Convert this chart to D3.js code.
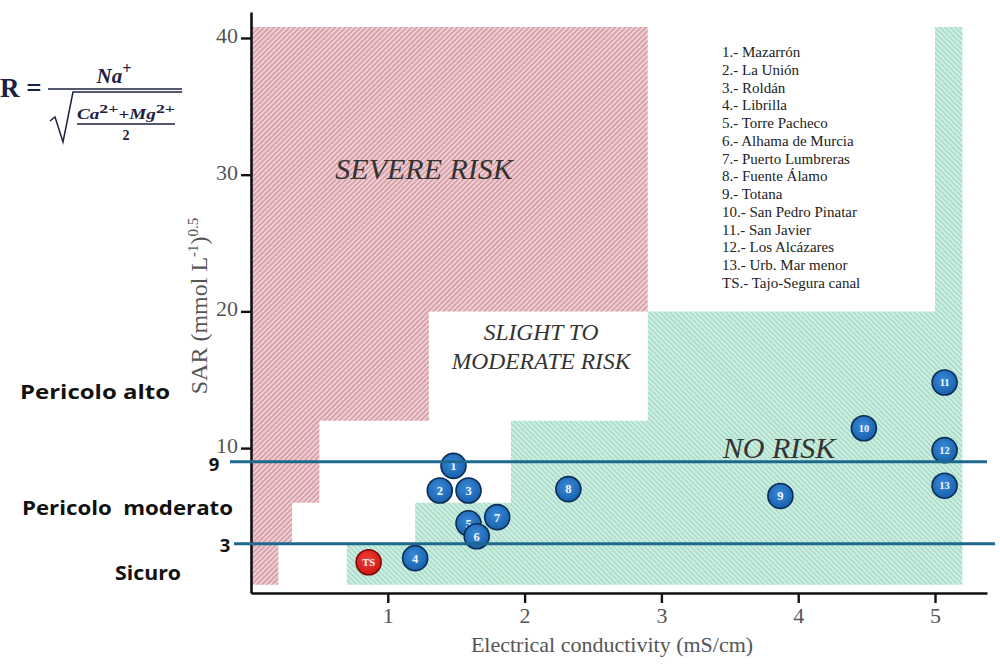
<!DOCTYPE html>
<html>
<head>
<meta charset="utf-8">
<script src="https://cdn.jsdelivr.net/npm/d3@7/dist/d3.min.js"></script>
<style>
  html, body { margin: 0; padding: 0; background: #fff; }
  svg { display: block; }
</style>
</head>
<body>
<svg id="chart" width="1000" height="664"></svg>
<script>
// Water sampling sites: electrical conductivity (mS/cm) and SAR
const siteIds   = ["1", "2", "3", "4", "5", "6", "7", "8", "9", "10", "11", "12", "13", "TS"];
const ecValues  = [1.48, 1.38, 1.59, 1.20, 1.59, 1.65, 1.80, 2.32, 3.87, 4.48, 5.07, 5.07, 5.07, 0.86];
const sarValues = [8.7, 6.9, 6.9, 1.95, 4.5, 3.55, 4.95, 7.0, 6.5, 11.45, 14.8, 9.85, 7.25, 1.65];

const legendNames = [
  "1.- Mazarrón", "2.- La Unión", "3.- Roldán", "4.- Librilla", "5.- Torre Pacheco",
  "6.- Alhama de Murcia", "7.- Puerto Lumbreras", "8.- Fuente Álamo", "9.- Totana",
  "10.- San Pedro Pinatar", "11.- San Javier", "12.- Los Alcázares", "13.- Urb. Mar menor",
  "TS.- Tajo-Segura canal"
];

// Infiltration risk thresholds (SAR bands and EC limits per band)
const sarBreaks   = [0, 3, 6, 12, 20, 40.8];
const severeBelow = [0.2, 0.3, 0.5, 1.3, 2.9];
const noRiskAbove = [0.7, 1.2, 1.9, 2.9, 5.0];
const ecLimit = 5.2;

const xTicks = [1, 2, 3, 4, 5];
const yTicks = [10, 20, 30, 40];

// Reference lines drawn across the chart
const refLevels = [9, 3];

const svg = d3.select("#chart");
const x = d3.scaleLinear().domain([0, 5.38]).range([251, 987]);
const y = d3.scaleLinear().domain([-0.6, 41.9]).range([593, 12]);

const defs = svg.append("defs");
function hatch(id, bg, fg, angle) {
  const p = defs.append("pattern")
    .attr("id", id).attr("patternUnits", "userSpaceOnUse")
    .attr("width", 3.6).attr("height", 3.6)
    .attr("patternTransform", `rotate(${angle})`);
  p.append("rect").attr("width", 3.6).attr("height", 3.6).attr("fill", bg);
  p.append("line").attr("x1", 0.9).attr("y1", 0).attr("x2", 0.9).attr("y2", 3.6)
    .attr("stroke", fg).attr("stroke-width", 1.4);
}
hatch("hatchSevere", "#f0d0d4", "#cf939c", 45);
hatch("hatchNone", "#cfefe3", "#a2d8c3", -45);

function bubbleGrad(id, c0, c1) {
  const g = defs.append("radialGradient").attr("id", id)
    .attr("cx", "45%").attr("cy", "40%").attr("r", "60%");
  g.append("stop").attr("offset", "0%").attr("stop-color", c0);
  g.append("stop").attr("offset", "100%").attr("stop-color", c1);
}
bubbleGrad("gBlue", "#3b8ad8", "#1661ad");
bubbleGrad("gRed", "#f0423a", "#d21414");

// Severe-risk region: steps to the left of the severe limits
const bandTop = sarBreaks[sarBreaks.length - 1];
const severePts = [[0, bandTop]];
for (let i = severeBelow.length - 1; i >= 0; i--) {
  severePts.push([severeBelow[i], sarBreaks[i + 1]]);
  severePts.push([severeBelow[i], sarBreaks[i]]);
}
severePts.push([0, 0]);

// No-risk region: steps to the right of the no-risk limits
const nonePts = [[ecLimit, bandTop], [ecLimit, 0]];
for (let i = 0; i < noRiskAbove.length; i++) {
  nonePts.push([noRiskAbove[i], sarBreaks[i]]);
  nonePts.push([noRiskAbove[i], sarBreaks[i + 1]]);
}

const area = d3.line().x(d => x(d[0])).y(d => y(d[1]));
svg.append("path").attr("d", area(severePts) + "Z").attr("fill", "url(#hatchSevere)");
svg.append("path").attr("d", area(nonePts) + "Z").attr("fill", "url(#hatchNone)");

// Zone labels
const zoneFont = "'Liberation Serif', 'Times New Roman', serif";
function zoneLabel(t, ec, sar, size) {
  svg.append("text").attr("x", x(ec)).attr("y", y(sar))
    .attr("text-anchor", "middle").attr("font-family", zoneFont).attr("font-style", "italic")
    .attr("font-size", size).attr("fill", "#333").text(t);
}
zoneLabel("SEVERE RISK", 1.265, 29.7, 30);
zoneLabel("SLIGHT TO", 2.12, 17.9, 23.5);
zoneLabel("MODERATE RISK", 2.12, 15.75, 23.5);
zoneLabel("NO RISK", 3.86, 9.25, 30);

// Legend of sites
const legend = svg.append("g").attr("font-family", zoneFont).attr("font-size", 15).attr("fill", "#222");
legend.selectAll("text").data(legendNames).join("text")
  .attr("x", 722).attr("y", (d, i) => 57 + i * 17.75).text(d => d);

// Axes
const axisFont = "'Liberation Serif', 'Times New Roman', serif";
const gx = svg.append("g").attr("transform", `translate(0,${y.range()[0]})`)
  .call(d3.axisBottom(x).tickValues(xTicks).tickSize(10).tickSizeOuter(0).tickPadding(4).tickFormat(d3.format("d")));
const gy = svg.append("g").attr("transform", `translate(${x(0)},0)`)
  .call(d3.axisLeft(y).tickValues(yTicks).tickSize(10).tickSizeOuter(0).tickPadding(3).tickFormat(d3.format("d")));
[gx, gy].forEach(g => {
  g.select(".domain").attr("stroke", "#111").attr("stroke-width", 2.6);
  g.selectAll(".tick line").attr("stroke", "#111").attr("stroke-width", 2.4);
  g.selectAll(".tick text").attr("font-family", axisFont).attr("font-size", 22).attr("fill", "#555");
});
gy.selectAll(".tick text").attr("dy", "0.2em");

svg.append("text").attr("x", 612).attr("y", 652).attr("text-anchor", "middle")
  .attr("font-family", axisFont).attr("font-size", 22).attr("fill", "#555")
  .text("Electrical conductivity (mS/cm)");

const yTitle = svg.append("text").attr("transform", "translate(207,306) rotate(-90)")
  .attr("text-anchor", "middle").attr("font-family", axisFont).attr("font-size", 24).attr("fill", "#555");
yTitle.append("tspan").text("SAR (mmol L");
yTitle.append("tspan").attr("font-size", 15).attr("dy", -9).text("-1");
yTitle.append("tspan").attr("dy", 9).text(")");
yTitle.append("tspan").attr("font-size", 15).attr("dy", -9).text("0.5");

// Sites
const pts = siteIds.map((id, i) => ({ id, ec: ecValues[i], sar: sarValues[i] }));
const site = svg.append("g").selectAll("g").data(pts).join("g")
  .attr("transform", d => `translate(${x(d.ec)},${y(d.sar)})`);
site.append("circle").attr("r", 12.5)
  .attr("fill", d => d.id === "TS" ? "url(#gRed)" : "url(#gBlue)")
  .attr("stroke", d => d.id === "TS" ? "#7a0b0b" : "#0a2c55").attr("stroke-width", 1.6);
site.append("text").attr("text-anchor", "middle").attr("dy", "0.35em")
  .attr("font-family", axisFont).attr("font-weight", "bold")
  .attr("font-size", d => d.id.length > 1 ? 10.5 : 12.5).attr("fill", "#f4f8ff").text(d => d.id);

// Reference lines with their levels
const lineColor = "#1e6890";
const lineStart = [230, 234];
const lineEnd = [987, 995];
refLevels.forEach((v, i) => {
  svg.append("line").attr("x1", lineStart[i]).attr("x2", lineEnd[i])
    .attr("y1", y(v)).attr("y2", y(v)).attr("stroke", lineColor).attr("stroke-width", 3);
});

const noteFont = "'Open Sans', 'Liberation Sans', Arial, sans-serif";
const notes = [
  { t: "9", x: 214, dy: 3 },
  { t: "3", x: 225, dy: 2 }
];
notes.forEach((n, i) => {
  svg.append("text").attr("x", n.x).attr("y", y(refLevels[i]) + n.dy).attr("dy", "0.36em")
    .attr("text-anchor", "middle").attr("font-family", noteFont).attr("font-weight", "bold")
    .attr("font-size", 18.5).attr("fill", "#111").text(n.t);
});

const bandLabels = [
  { t: "Pericolo alto", x: 20, sar: 14.1, w: 150 },
  { t: "Pericolo\u00a0 moderato", x: 22, sar: 5.6, w: 211 },
  { t: "Sicuro", x: 115, sar: 0.9, w: 66 }
];
bandLabels.forEach(b => {
  svg.append("text").attr("x", b.x).attr("y", y(b.sar)).attr("dy", "0.36em")
    .attr("font-family", noteFont).attr("font-weight", "bold")
    .attr("font-size", 19.5).attr("fill", "#111")
    .attr("textLength", b.w).attr("lengthAdjust", "spacingAndGlyphs").text(b.t);
});

// SAR formula
const ink = "#1b2140";
const eq = svg.append("g").attr("fill", ink).attr("font-family", "'Liberation Serif', 'DejaVu Serif', serif");
eq.append("text").attr("x", 0).attr("y", 97)
  .attr("font-size", 27).attr("font-weight", "bold").text("R =");
const na = eq.append("text").attr("x", 114).attr("y", 83).attr("text-anchor", "middle")
  .attr("font-size", 21).attr("font-weight", "bold").attr("font-style", "italic");
na.append("tspan").text("Na");
na.append("tspan").attr("font-size", 16).attr("dy", -9).text("+");
eq.append("line").attr("x1", 48).attr("x2", 182).attr("y1", 89).attr("y2", 89)
  .attr("stroke", ink).attr("stroke-width", 1.6);
eq.append("path").attr("d", "M50,121 L55,117 L63,142 L73,92 L182,92")
  .attr("fill", "none").attr("stroke", ink).attr("stroke-width", 1.5);
const inner = eq.append("text").attr("x", 77).attr("y", 119)
  .attr("font-size", 14).attr("font-weight", "bold").attr("font-style", "italic")
  .attr("textLength", 98).attr("lengthAdjust", "spacingAndGlyphs");
inner.append("tspan").text("Ca");
inner.append("tspan").attr("font-size", 13).attr("font-style", "normal").attr("dy", -6).text("2+");
inner.append("tspan").attr("font-style", "normal").attr("dy", 6).text("+");
inner.append("tspan").text("Mg");
inner.append("tspan").attr("font-size", 13).attr("font-style", "normal").attr("dy", -6).text("2+");
eq.append("line").attr("x1", 77).attr("x2", 175).attr("y1", 124).attr("y2", 124)
  .attr("stroke", ink).attr("stroke-width", 1.3);
eq.append("text").attr("x", 126).attr("y", 140).attr("text-anchor", "middle")
  .attr("font-size", 14).attr("font-weight", "bold").text("2");
</script>
</body>
</html>
